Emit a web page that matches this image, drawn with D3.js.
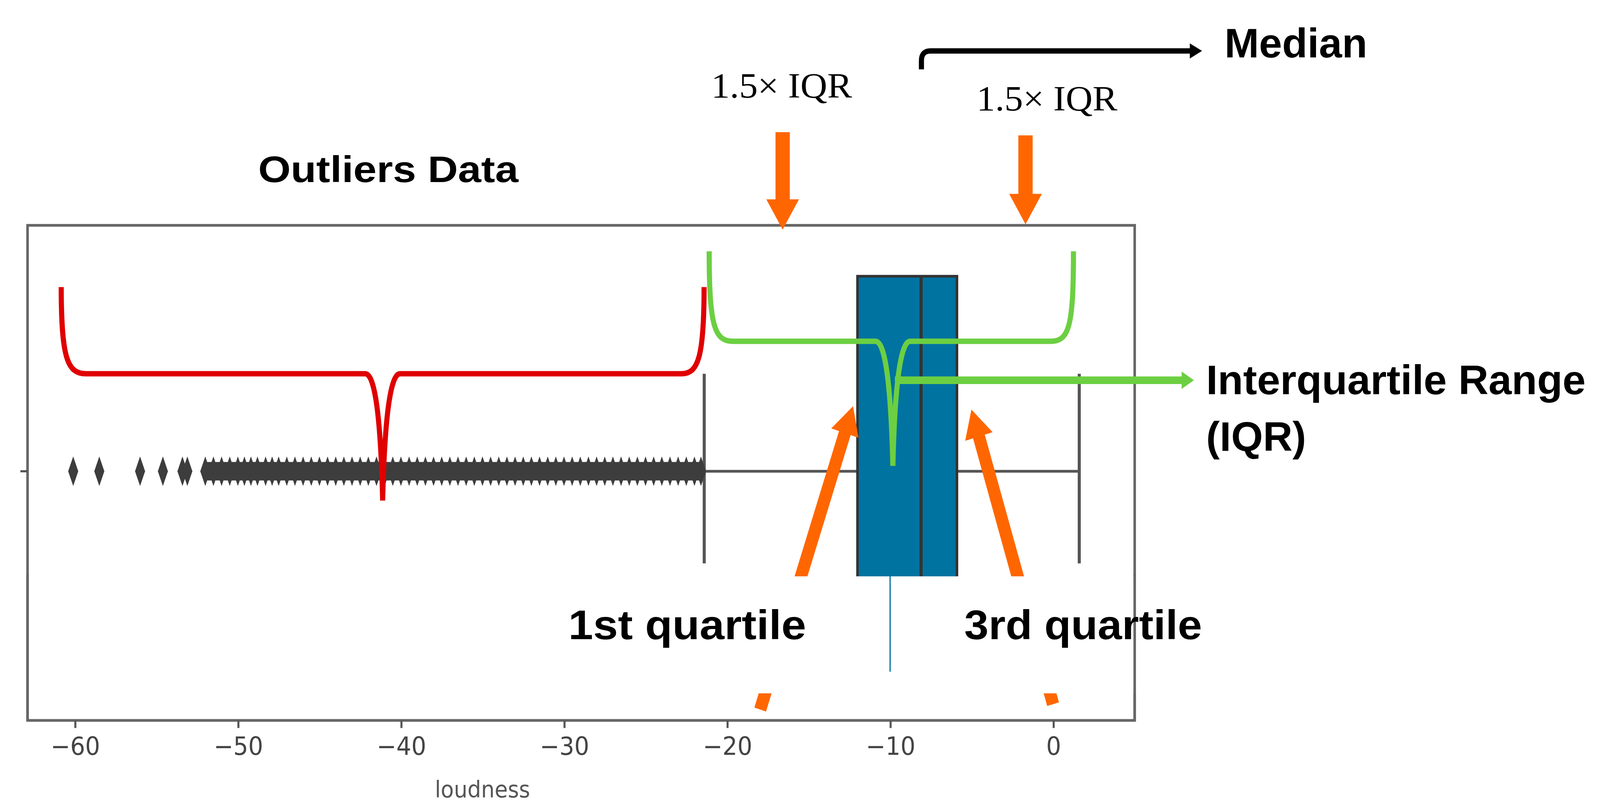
<!DOCTYPE html><html><head><meta charset="utf-8"><script src="https://cdn.jsdelivr.net/npm/d3@7"></script>
<style>html,body{margin:0;padding:0;background:#fff;width:100%;height:100%;overflow:hidden}svg{display:block;width:100vw;height:100vh}</style></head><body><svg id="c" viewBox="0 0 1568 744" preserveAspectRatio="none"></svg>
<script>
const ticks=[-60,-50,-40,-30,-20,-10,0];
const domain=[-62.9,5];
const boxStats={q1:-12.0,median:-8.1,q3:-5.9,lowWhisker:-21.4,highWhisker:1.6};
const outliers=[-60.1,-58.5,-56.0,-54.6,-53.4,-53.1,-52.0,-51.5,-51.0,-50.5,-50.0,-49.6,-49.2,-48.8,-48.3,-47.9,-47.5,-47.0,-46.5,-46.0,-45.5,-45.0,-44.5,-44.0,-43.5,-43.0,-42.5,-42.0,-41.5,-41.0,-40.5,-40.0,-39.5,-39.0,-38.5,-38.0,-37.5,-37.0,-36.5,-36.0,-35.5,-35.0,-34.5,-34.0,-33.5,-33.0,-32.5,-32.0,-31.5,-31.0,-30.5,-30.0,-29.5,-29.0,-28.5,-28.0,-27.5,-27.0,-26.5,-26.0,-25.5,-25.0,-24.5,-24.0,-23.5,-23.0,-22.5,-22.0,-21.6];
const svg=d3.select("#c");
const L=27,R=1112,T=208,B=665,cy=435;
const x=d3.scaleLinear().domain(domain).range([L,R]);
svg.append("rect").attr("x",L).attr("y",T).attr("width",R-L).attr("height",B-T).attr("fill","none").attr("stroke","#666").attr("stroke-width",2.5);
const ax=svg.append("g").attr("transform",`translate(0,${B})`).call(d3.axisBottom(x).tickValues(ticks).tickSize(7).tickFormat(d=>d3.format("")(d).replace("-","\u2212")));
ax.select(".domain").remove();
ax.selectAll("line").attr("stroke","#555").attr("stroke-width",2);
ax.selectAll("text").attr("font-family","DejaVu Sans").attr("font-size",23).attr("fill","#444").attr("dy","0.95em");
svg.append("text").attr("x",x(-35)).attr("y",736).attr("text-anchor","middle").attr("font-family","DejaVu Sans").attr("font-size",21).attr("fill","#555").text("loudness");
svg.append("line").attr("x1",L-7).attr("x2",L).attr("y1",cy).attr("y2",cy).attr("stroke","#555").attr("stroke-width",2);
svg.append("line").attr("x1",x(boxStats.lowWhisker)).attr("x2",x(boxStats.highWhisker)).attr("y1",cy).attr("y2",cy).attr("stroke","#555").attr("stroke-width",2.5);
[boxStats.lowWhisker,boxStats.highWhisker].forEach(v=>svg.append("line").attr("x1",x(v)).attr("x2",x(v)).attr("y1",345).attr("y2",520).attr("stroke","#555").attr("stroke-width",3));
svg.append("line").attr("x1",x(-52)).attr("x2",x(-21.6)).attr("y1",cy).attr("y2",cy).attr("stroke","#3d3d3d").attr("stroke-width",17);
svg.selectAll(".o").data(outliers).join("path").attr("d",d3.symbol(d3.symbolDiamond,150)()).attr("transform",d=>`translate(${x(d)},${cy}) scale(0.75,1.2)`).attr("fill","#3d3d3d");
svg.append("rect").attr("x",x(boxStats.q1)).attr("y",255).attr("width",x(boxStats.q3)-x(boxStats.q1)).attr("height",285).attr("fill","#0073a0").attr("stroke","#333").attr("stroke-width",2.5);
svg.append("line").attr("x1",x(boxStats.median)).attr("x2",x(boxStats.median)).attr("y1",255).attr("y2",540).attr("stroke","#333").attr("stroke-width",3);
const orange="#ff6600";
function arrow(x1,y1,x2,y2,col,w,hw,hl){const a=Math.atan2(y2-y1,x2-x1),len=Math.hypot(x2-x1,y2-y1);
 const g=svg.append("g").attr("transform",`translate(${x1},${y1}) rotate(${a*180/Math.PI})`);
 g.append("path").attr("d",`M0,${-w/2}L${len-hl},${-w/2}L${len-hl},${-hw/2}L${len},0L${len-hl},${hw/2}L${len-hl},${w/2}L0,${w/2}Z`).attr("fill",col);}
arrow(745,655,836,375,orange,12,28,26);
arrow(1032,650,952,378,orange,12,28,26);
svg.append("rect").attr("x",L+2).attr("y",532).attr("width",1180-L).attr("height",108).attr("fill","#fff");
svg.append("rect").attr("x",R-2).attr("y",532).attr("width",80).attr("height",108).attr("fill","#fff");
svg.append("line").attr("x1",R).attr("x2",R).attr("y1",530).attr("y2",B).attr("stroke","#666").attr("stroke-width",2.5);
svg.append("line").attr("x1",L).attr("x2",L).attr("y1",530).attr("y2",B).attr("stroke","#666").attr("stroke-width",2.5);
svg.append("line").attr("x1",x(-10)).attr("x2",x(-10)).attr("y1",530).attr("y2",620).attr("stroke","#0073a0").attr("stroke-width",1.2);
const bold=(t,X,Y,s,w)=>svg.append("text").attr("x",X).attr("y",Y).attr("font-family","Liberation Sans").attr("font-weight","bold").attr("font-size",s).attr("textLength",w).attr("lengthAdjust","spacingAndGlyphs").attr("fill","#000").text(t);
bold("1st quartile",557,590,38,233);bold("3rd quartile",945,590,38,233);
arrow(767,122,767,212,orange,14,32,28);
arrow(1005,125,1005,207,orange,14,32,28);
const serif=(t,X,Y)=>svg.append("text").attr("x",X).attr("y",Y).attr("font-family","Liberation Serif").attr("font-size",33).attr("textLength",138).attr("lengthAdjust","spacingAndGlyphs").text(t);
serif("1.5× IQR",697,90);serif("1.5× IQR",957,102);
bold("Outliers Data",253,168,34,255);
svg.append("path").attr("d","M903,64 L903,56 Q903,47 912,47 L1168,47").attr("fill","none").attr("stroke","#000").attr("stroke-width",5);
svg.append("path").attr("d","M1166,40 L1178,47 L1166,54Z").attr("fill","#000");
bold("Median",1200,53,38,140);
const red="#e00000",green="#6ccf42";
svg.append("path").attr("d","M60,265 C60,330 66,345 84,345 L358,345 Q372,345 375,462 Q378,345 392,345 L668,345 C684,345 690,330 690,265").attr("fill","none").attr("stroke",red).attr("stroke-width",5);
svg.append("path").attr("d","M695,232 C695,300 700,315 718,315 L858,315 Q872,315 875,430 Q878,315 892,315 L1030,315 C1048,315 1052,300 1052,232").attr("fill","none").attr("stroke",green).attr("stroke-width",5);
arrow(877,351,1170,351,green,7,16,12);
bold("Interquartile Range",1182,364,38,372);bold("(IQR)",1182,416,38,98);
</script></body></html>
